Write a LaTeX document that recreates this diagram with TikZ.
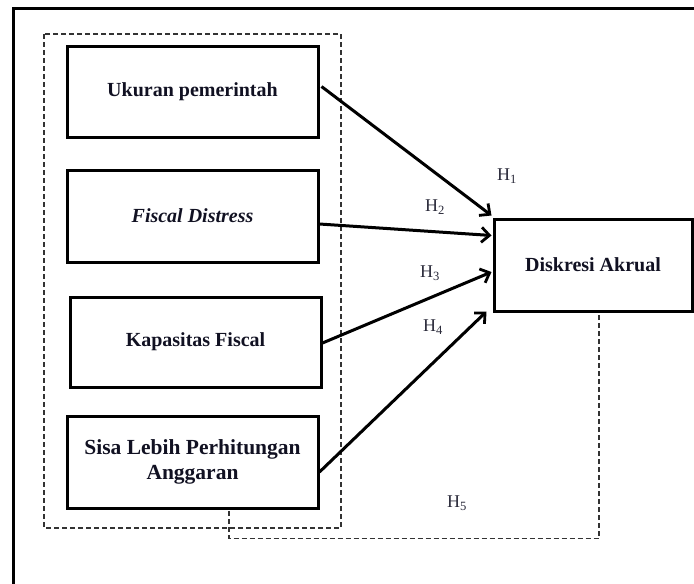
\documentclass[tikz,border=0pt]{standalone}
\usepackage{fontspec}
\setmainfont{Liberation Serif}
\usetikzlibrary{arrows.meta,calc}
\definecolor{txt}{HTML}{111122}
\definecolor{lbl}{HTML}{2A2A3A}
\definecolor{dsh}{HTML}{333333}
\tikzset{
  varbox/.style={draw=black, line width=3pt, rectangle, align=center, text=txt,
    font=\fontsize{20}{25}\selectfont\bfseries, inner sep=0pt},
  arr/.style={line width=3pt, -{Straight Barb[length=8pt,width=15pt,line width=2.8pt]}},
  dsline/.style={draw=dsh, line width=1.3pt, dash pattern=on 5pt off 3pt},
  hlab/.style={text=lbl, font=\fontsize{18}{20}\selectfont, inner sep=0pt}
}
\begin{document}
\begin{tikzpicture}[x=1pt,y=-1pt]
\useasboundingbox (0,0) rectangle (694,584);
% outer frame (top and left)
\draw[line width=3pt] (13,590) -- (13,8) -- (700,8);
% dashed group
\draw[dsline] (44,34) rectangle (341,528);
% boxes
\node[varbox, minimum width=251pt, minimum height=91pt] (b1) at (192.5,91.5) {Ukuran pemerintah};
\node[varbox, minimum width=251pt, minimum height=92pt] (b2) at (192.5,216) {\itshape Fiscal Distress};
\node[varbox, minimum width=251pt, minimum height=90pt] (b3) at (195.5,342) {Kapasitas Fiscal};
\node[varbox, minimum width=251pt, minimum height=92pt, font=\fontsize{21.5}{25}\selectfont\bfseries] (b4) at (192.5,462) {Sisa Lebih Perhitungan\\Anggaran};
\node[varbox, minimum width=198pt, minimum height=92pt] (dk) at (593,265) {Diskresi Akrual};
% arrows
\draw[arr] ($(b1.east)+(2,-5)$) -- ($(dk.north west)+(-1,-2)$);
\draw[arr] ($(b2.east)+(0,8)$) -- ($(dk.north west)+(-1,18)$);
\draw[arr] ($(b3.east)+(0,1)$) -- ($(dk.west)+(-1,7)$);
\draw[arr] ($(b4.east)+(0,10)$) -- ($(dk.south west)+(-6,-1)$);
% H5 dashed connector
\coordinate (s5) at ($(b4.south)+(36.5,1.5)$);
\coordinate (e5) at ($(dk.south)+(6,1.5)$);
\draw[dsline] (s5) -- ++(0,27.5) -| (e5);
% labels
\node[hlab] (h1) at (507,176) {H\textsubscript{1}};
\node[hlab] (h2) at (435,207) {H\textsubscript{2}};
\node[hlab] (h3) at (430,273) {H\textsubscript{3}};
\node[hlab] (h4) at (433,327) {H\textsubscript{4}};
\node[hlab] (h5) at (457,503) {H\textsubscript{5}};
\end{tikzpicture}
\end{document}
